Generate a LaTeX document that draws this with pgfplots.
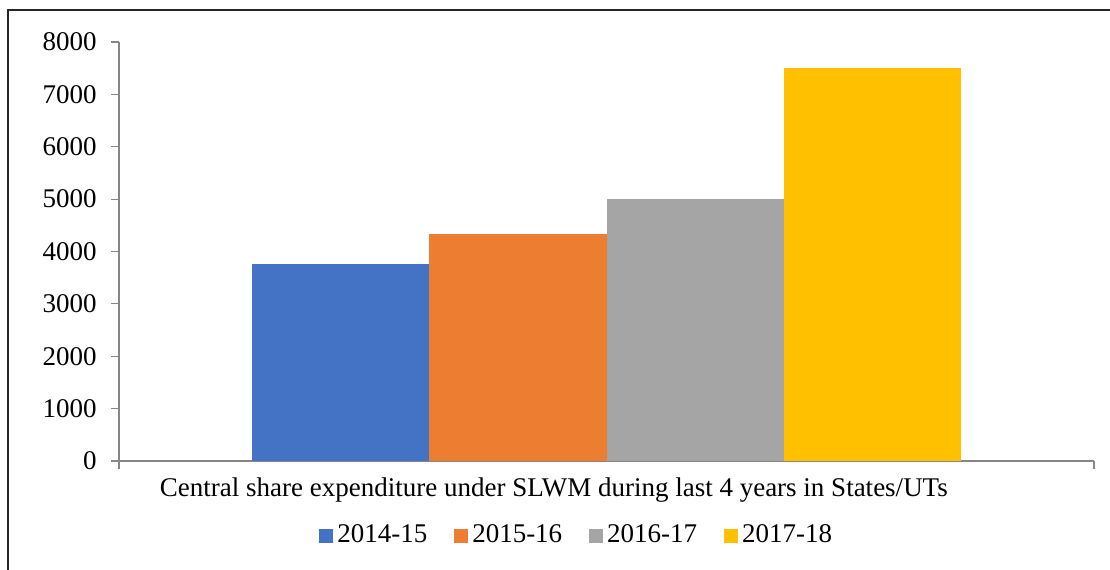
\documentclass[border=0pt]{standalone}
\usepackage{fontspec}
\setmainfont{Liberation Serif}
\usepackage{pgfplots}
\pgfplotsset{compat=1.18}

\definecolor{sblue}{HTML}{4472C4}
\definecolor{sorange}{HTML}{ED7D31}
\definecolor{sgray}{HTML}{A5A5A5}
\definecolor{syellow}{HTML}{FFC000}
\definecolor{axgray}{HTML}{868686}

\begin{document}
\fontsize{13.5}{16}\selectfont
\begin{tikzpicture}
  % 1 px of the reference = 0.5pt
  \useasboundingbox (-59.5pt,-54pt) rectangle (495.5pt,230.5pt);
  \draw[line width=0.8pt, black!85] (-55.5pt,-60pt) -- (-55.5pt,225.5pt) -- (500pt,225.5pt);
  \begin{axis}[
      at={(0,0)}, anchor=south west,
      scale only axis, clip=false,
      width=487.5pt, height=209.5pt,
      ybar=0pt, bar width=0.182,
      xmin=-0.5, xmax=0.5,
      ymin=0, ymax=8000,
      ytick={0,1000,...,8000},
      xtick={-0.5,0.5}, xticklabels={},
      axis x line*=bottom, axis y line*=left,
      axis line style={axgray, line width=0.6pt},
      tick style={axgray, line width=0.6pt},
      tick align=outside, major tick length=4pt,
      y axis line style={-}, x axis line style={-},
      yticklabel style={font=\fontsize{13.5}{16}\selectfont, xshift=-2.5pt},
      scaled y ticks=false,
      /pgf/number format/assume math mode=true,
      /pgf/number format/1000 sep={},
      legend columns=4,
      legend style={draw=none, fill=none,
        at={(0.4705,0)}, anchor=center, yshift=-37.5pt,
        font=\fontsize{13.5}{16}\selectfont,
        /tikz/every even column/.append style={column sep=11.5pt}},
      legend image code/.code={\fill[#1] (0pt,-3.5pt) rectangle (7pt,3.5pt);},
    ]
    \addplot[fill=sblue, draw=none] coordinates {(0,3760)};
    \addplot[fill=sorange, draw=none] coordinates {(0,4330)};
    \addplot[fill=sgray, draw=none] coordinates {(0,5000)};
    \addplot[fill=syellow, draw=none] coordinates {(0,7500)};
    \legend{2014-15,2015-16,2016-17,2017-18}
    \node[anchor=center, yshift=-14.5pt] at (axis description cs:0.446,0)
      {Central share expenditure under SLWM during last 4 years in States/UTs};
  \end{axis}
\end{tikzpicture}
\end{document}
